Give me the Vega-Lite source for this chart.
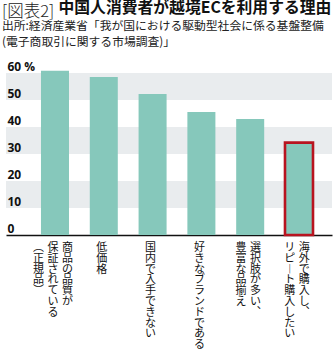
{
  "$schema": "https://vega.github.io/schema/vega-lite/v6.json",
  "autosize": "none",
  "width": 326,
  "height": 162,
  "padding": {"left": 6, "top": 73, "right": 4, "bottom": 121},
  "background": "white",
  "config": {"view": {"stroke": null}},
  "title": {
    "text": "[図表2]",
    "subtitle": ["出所:経済産業省「我が国における駆動型社会に係る基盤整備", "(電子商取引に関する市場調査)」"],
    "anchor": "start",
    "frame": "group",
    "dx": -4,
    "offset": -50,
    "font": "Noto Sans CJK JP",
    "fontSize": 16.5,
    "fontWeight": 300,
    "color": "#222222",
    "subtitleFont": "Noto Sans CJK JP",
    "subtitleFontSize": 11.8,
    "subtitleColor": "#222222",
    "subtitleLineHeight": 16,
    "subtitlePadding": 1
  },
  "datasets": {
    "reasons": [
      {"reason": "商品の品質が保証されている(正規品)", "value": 60.8, "l1": "商品の品質が", "l2": "保証されている", "l3": "(正規品)"},
      {"reason": "低価格", "value": 58.5, "l1": "低価格", "l2": "", "l3": ""},
      {"reason": "国内で入手できない", "value": 52.2, "l1": "国内で入手できない", "l2": "", "l3": ""},
      {"reason": "好きなブランドである", "value": 45.6, "l1": "好きなブランドである", "l2": "", "l3": ""},
      {"reason": "選択肢が多い、豊富な品揃え", "value": 43.0, "l1": "選択肢が多い、", "l2": "豊富な品揃え", "l3": ""},
      {"reason": "海外で購入し、リピート購入したい", "value": 34.2, "l1": "海外で購入し、", "l2": "リピート購入したい", "l3": ""}
    ],
    "bands": [
      {"lo": 10, "hi": 20},
      {"lo": 30, "hi": 40},
      {"lo": 50, "hi": 60}
    ]
  },
  "layer": [
    {
      "data": {"name": "bands"},
      "mark": {"type": "rect", "color": "#e9ecee"},
      "encoding": {
        "y": {
          "field": "lo", "type": "quantitative",
          "scale": {"domain": [0, 60], "nice": false},
          "axis": {
            "title": "中国人消費者が越境ECを利用する理由",
            "titleAngle": 0, "titleAlign": "left", "titleBaseline": "top",
            "titleX": 52, "titleY": -73,
            "titleFont": "Noto Sans CJK JP", "titleFontSize": 15.8, "titleFontWeight": "bold", "titleColor": "#111111",
            "values": [0, 10, 20, 30, 40, 50, 60], "tickCount": 7,
            "labelExpr": "datum.value == 60 ? '60 %' : datum.label",
            "domain": false, "ticks": false, "grid": false, "zindex": 2,
            "labelAlign": "left", "labelBaseline": "alphabetic", "labelPadding": -1, "labelOffset": -2.3,
            "labelFont": "Open Sans", "labelFontWeight": "bold", "labelFontSize": 12, "labelColor": "#111111",
            "labelOverlap": false, "labelBound": false
          }
        },
        "y2": {"field": "hi"}
      }
    },
    {
      "data": {"name": "reasons"},
      "mark": {"type": "bar", "color": "#86c8bb"},
      "encoding": {
        "x": {
          "field": "reason", "type": "nominal", "sort": null,
          "scale": {"type": "band", "paddingInner": 0.426, "paddingOuter": 0.553, "align": 0.648},
          "axis": {"title": null, "labels": false, "ticks": false, "domain": true, "domainColor": "#111111", "domainWidth": 1.5}
        },
        "y": {
          "field": "value", "type": "quantitative",
          "axis": {
            "title": "中国人消費者が越境ECを利用する理由",
            "titleAngle": 0, "titleAlign": "left", "titleBaseline": "top",
            "titleX": 52, "titleY": -73,
            "titleFont": "Noto Sans CJK JP", "titleFontSize": 15.8, "titleFontWeight": "bold", "titleColor": "#111111",
            "values": [0, 10, 20, 30, 40, 50, 60], "tickCount": 7,
            "labelExpr": "datum.value == 60 ? '60 %' : datum.label",
            "domain": false, "ticks": false, "grid": false, "zindex": 2,
            "labelAlign": "left", "labelBaseline": "alphabetic", "labelPadding": -1, "labelOffset": -2.3,
            "labelFont": "Open Sans", "labelFontWeight": "bold", "labelFontSize": 12, "labelColor": "#111111",
            "labelOverlap": false, "labelBound": false
          }
        },
        "stroke": {
          "condition": {"test": "datum.reason === '海外で購入し、リピート購入したい'", "value": "#b8141f"},
          "value": null
        },
        "strokeWidth": {
          "condition": {"test": "datum.reason === '海外で購入し、リピート購入したい'", "value": 2.6},
          "value": 0
        }
      }
    },
    {
      "data": {"name": "reasons"},
      "mark": {
        "type": "text", "baseline": "top", "align": "center", "dy": 7,
        "font": "Noto Sans CJK JP", "fontSize": 11, "lineHeight": 10.8, "color": "#111111",
        "text": {"expr": "split(replace(replace(replace(replace(datum.l1,'(','︵'),')','︶'),'、','︑'),'ー','︱'), '')"},
        "dx": {"expr": "(datum.l3 ? 14.5 : datum.l2 ? 7.25 : 0) - 2"}
      },
      "encoding": {
        "x": {"field": "reason", "type": "nominal", "sort": null},
        "y": {"datum": 0, "type": "quantitative"}
      }
    },
    {
      "data": {"name": "reasons"},
      "transform": [{"filter": "datum.l2 != ''"}],
      "mark": {
        "type": "text", "baseline": "top", "align": "center", "dy": 7,
        "font": "Noto Sans CJK JP", "fontSize": 11, "lineHeight": 10.8, "color": "#111111",
        "text": {"expr": "split(replace(replace(replace(replace(datum.l2,'(','︵'),')','︶'),'、','︑'),'ー','︱'), '')"},
        "dx": {"expr": "(datum.l3 ? 0 : -7.25) - 2"}
      },
      "encoding": {
        "x": {"field": "reason", "type": "nominal", "sort": null},
        "y": {"datum": 0, "type": "quantitative"}
      }
    },
    {
      "data": {"name": "reasons"},
      "transform": [{"filter": "datum.l3 != ''"}],
      "mark": {
        "type": "text", "baseline": "top", "align": "center", "dy": 7,
        "font": "Noto Sans CJK JP", "fontSize": 11, "lineHeight": 10.8, "color": "#111111",
        "text": {"expr": "split(replace(replace(replace(replace(datum.l3,'(','︵'),')','︶'),'、','︑'),'ー','︱'), '')"},
        "dx": {"expr": "-16.5"}
      },
      "encoding": {
        "x": {"field": "reason", "type": "nominal", "sort": null},
        "y": {"datum": 0, "type": "quantitative"}
      }
    }
  ]
}
